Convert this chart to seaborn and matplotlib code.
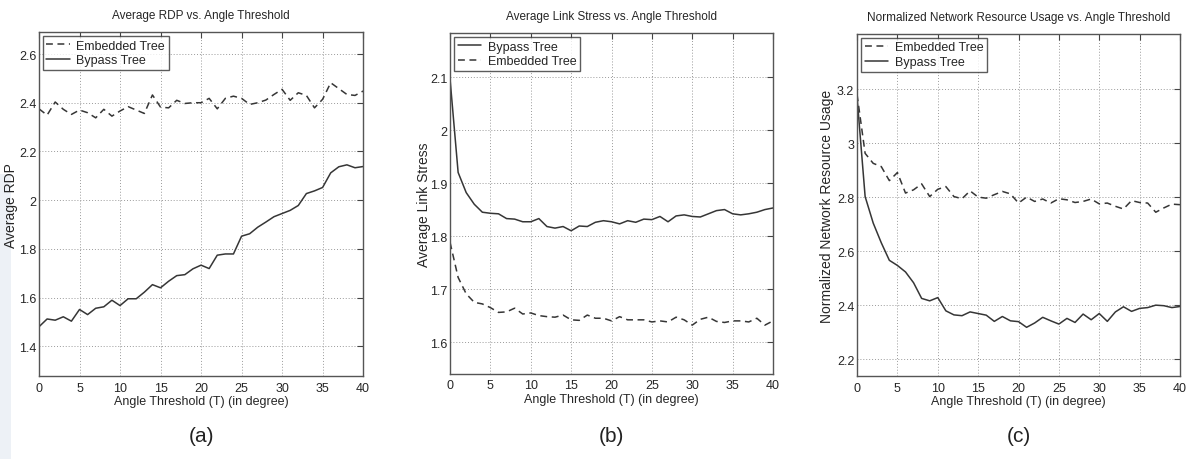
import numpy as np
import pandas as pd
import matplotlib
matplotlib.use("Agg")
import matplotlib.pyplot as plt
import seaborn as sns
from matplotlib.patches import Rectangle
from matplotlib.ticker import FuncFormatter

# angle threshold values (degrees)
angles = list(range(0, 41))

# (a) average RDP
rdp_bypass = [1.48, 1.512, 1.507, 1.521, 1.503, 1.551, 1.530, 1.556, 1.562, 1.589,
              1.567, 1.595, 1.595, 1.622, 1.653, 1.640, 1.667, 1.690, 1.694, 1.718,
              1.733, 1.719, 1.774, 1.779, 1.779, 1.852, 1.862, 1.889, 1.910, 1.932,
              1.945, 1.958, 1.978, 2.027, 2.038, 2.052, 2.112, 2.137, 2.145, 2.133,
              2.138]
rdp_embedded = [2.375, 2.349, 2.403, 2.373, 2.352, 2.370, 2.359, 2.338, 2.373, 2.345,
                2.366, 2.384, 2.370, 2.356, 2.432, 2.382, 2.379, 2.410, 2.397, 2.400,
                2.400, 2.418, 2.375, 2.418, 2.427, 2.418, 2.393, 2.400, 2.411, 2.434,
                2.455, 2.410, 2.441, 2.430, 2.379, 2.414, 2.482, 2.458, 2.434, 2.430,
                2.448]

# (b) average link stress
stress_bypass = [2.096, 1.920, 1.882, 1.860, 1.845, 1.843, 1.842, 1.833, 1.832, 1.827,
                 1.827, 1.833, 1.818, 1.815, 1.818, 1.810, 1.819, 1.818, 1.826, 1.829,
                 1.827, 1.823, 1.829, 1.826, 1.832, 1.831, 1.837, 1.827, 1.838, 1.840,
                 1.837, 1.836, 1.842, 1.848, 1.850, 1.842, 1.840, 1.842, 1.845, 1.850,
                 1.853]
stress_embedded = [1.788, 1.722, 1.691, 1.675, 1.672, 1.665, 1.656, 1.657, 1.664, 1.653,
                   1.655, 1.650, 1.648, 1.647, 1.651, 1.642, 1.641, 1.651, 1.645, 1.645,
                   1.640, 1.648, 1.642, 1.642, 1.642, 1.638, 1.640, 1.638, 1.647, 1.642,
                   1.632, 1.643, 1.647, 1.639, 1.637, 1.640, 1.640, 1.638, 1.645, 1.632,
                   1.640]

# (c) normalized network resource usage
usage_bypass = [3.17, 2.802, 2.704, 2.631, 2.566, 2.547, 2.523, 2.483, 2.425, 2.416,
                2.428, 2.379, 2.364, 2.361, 2.375, 2.369, 2.363, 2.340, 2.358, 2.342,
                2.339, 2.318, 2.334, 2.355, 2.342, 2.330, 2.351, 2.336, 2.367, 2.346,
                2.369, 2.340, 2.375, 2.394, 2.377, 2.388, 2.391, 2.400, 2.398, 2.391,
                2.395]
usage_embedded = [3.18, 2.962, 2.925, 2.913, 2.861, 2.891, 2.815, 2.827, 2.849, 2.802,
                  2.829, 2.839, 2.802, 2.794, 2.823, 2.800, 2.796, 2.809, 2.821, 2.812,
                  2.778, 2.800, 2.784, 2.793, 2.778, 2.794, 2.790, 2.780, 2.784, 2.793,
                  2.775, 2.778, 2.766, 2.756, 2.787, 2.780, 2.778, 2.744, 2.760, 2.774,
                  2.772]

sns.set_style("white")
plt.rcParams["font.family"] = ["Liberation Sans Narrow", "Liberation Sans", "DejaVu Sans"]

line_color = "#363636"

fig = plt.figure(figsize=(11.96, 4.6), dpi=100)
# pale strip along the left edge of the scan (kept behind everything)
fig.patches.append(Rectangle((0, 0), 0.009, 0.62, transform=fig.transFigure,
                             facecolor="#edf1f6", edgecolor="none", zorder=-5))

panels = [
    dict(pos=[0.0326, 0.180, 0.271, 0.748], ylim=(1.277, 2.69),
         yticks=np.arange(1.4, 2.61, 0.2), ylab_x=-0.065,
         title="Average RDP vs. Angle Threshold", ylabel="Average RDP",
         series=[("Embedded Tree", rdp_embedded, "--"), ("Bypass Tree", rdp_bypass, "-")],
         tag="(a)"),
    dict(pos=[0.3763, 0.185, 0.270, 0.741], ylim=(1.54, 2.183),
         yticks=np.arange(1.6, 2.11, 0.1), ylab_x=-0.06,
         title="Average Link Stress vs. Angle Threshold", ylabel="Average Link Stress",
         series=[("Bypass Tree", stress_bypass, "-"), ("Embedded Tree", stress_embedded, "--")],
         tag="(b)"),
    dict(pos=[0.7166, 0.180, 0.270, 0.744], ylim=(2.137, 3.404),
         yticks=np.arange(2.2, 3.21, 0.2), ylab_x=-0.07,
         title="Normalized Network Resource Usage vs. Angle Threshold",
         ylabel="Normalized Network Resource Usage",
         series=[("Embedded Tree", usage_embedded, "--"), ("Bypass Tree", usage_bypass, "-")],
         tag="(c)"),
]

for p in panels:
    ax = fig.add_axes(p["pos"])
    ax.patch.set_alpha(0)
    for name, vals, ls in p["series"]:
        df = pd.DataFrame({"angle": angles, "value": vals})
        sns.lineplot(data=df, x="angle", y="value", ax=ax, color=line_color,
                     linestyle=ls, linewidth=1.1, label=name)
        if ls == "--":
            ax.lines[-1].set_dashes((4.5, 3))
    ax.set_xlim(0, 40)
    ax.set_ylim(*p["ylim"])
    ax.set_xticks(range(0, 41, 5))
    ax.set_yticks(p["yticks"])
    ax.yaxis.set_major_formatter(FuncFormatter(lambda v, _: f"{round(v, 2):g}"))
    ax.grid(True, linestyle=(0, (1, 2)), color="#9a9a9a", linewidth=0.7)
    ax.tick_params(direction="in", length=4, top=True, right=True,
                   labelsize=9, color="#444444")
    ax.tick_params(axis="x", pad=4)
    ax.tick_params(axis="y", pad=2)
    for s in ax.spines.values():
        s.set_color("#555555")
        s.set_linewidth(1.0)
    ax.set_title(p["title"], fontsize=8.5, pad=10)
    ax.set_xlabel("Angle Threshold (T) (in degree)", fontsize=9, labelpad=1)
    ax.set_ylabel(p["ylabel"], fontsize=10)
    ax.yaxis.set_label_coords(p["ylab_x"], 0.5)
    leg = ax.legend(loc="upper left", fontsize=9, frameon=True, fancybox=False,
                    handlelength=1.9, borderpad=0.3, labelspacing=0.2,
                    borderaxespad=0.3, handletextpad=0.5)
    leg.get_frame().set_edgecolor("#333333")
    leg.get_frame().set_linewidth(1.0)
    cx = p["pos"][0] + p["pos"][2] / 2
    fig.text(cx, 1 - 437 / 460, p["tag"], ha="center", va="center",
             fontsize=15, color="#222222")

fig.savefig("out.png", dpi=100)
